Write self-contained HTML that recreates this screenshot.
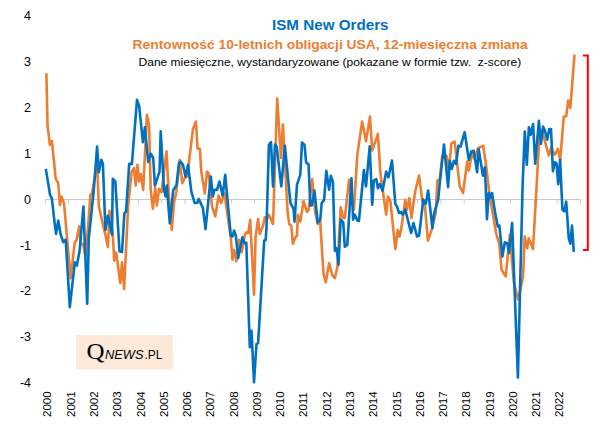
<!DOCTYPE html>
<html><head><meta charset="utf-8"><style>
html,body{margin:0;padding:0;background:#fff;}
body{width:605px;height:435px;overflow:hidden;position:relative;font-family:"Liberation Sans",sans-serif;}
svg{position:absolute;left:0;top:0;}
.t1{position:absolute;left:0;top:12px;width:605px;text-align:center;}
</style></head><body>
<svg width="605" height="435" viewBox="0 0 605 435">
<g stroke="#c9c9c9" stroke-width="1" fill="none">
<line x1="45.3" y1="199.5" x2="580.5" y2="199.5"/>
<line x1="45.3" y1="199.5" x2="45.3" y2="203.5"/><line x1="68.6" y1="199.5" x2="68.6" y2="203.5"/><line x1="91.8" y1="199.5" x2="91.8" y2="203.5"/><line x1="115.1" y1="199.5" x2="115.1" y2="203.5"/><line x1="138.4" y1="199.5" x2="138.4" y2="203.5"/><line x1="161.6" y1="199.5" x2="161.6" y2="203.5"/><line x1="184.9" y1="199.5" x2="184.9" y2="203.5"/><line x1="208.2" y1="199.5" x2="208.2" y2="203.5"/><line x1="231.5" y1="199.5" x2="231.5" y2="203.5"/><line x1="254.7" y1="199.5" x2="254.7" y2="203.5"/><line x1="278.0" y1="199.5" x2="278.0" y2="203.5"/><line x1="301.3" y1="199.5" x2="301.3" y2="203.5"/><line x1="324.5" y1="199.5" x2="324.5" y2="203.5"/><line x1="347.8" y1="199.5" x2="347.8" y2="203.5"/><line x1="371.1" y1="199.5" x2="371.1" y2="203.5"/><line x1="394.4" y1="199.5" x2="394.4" y2="203.5"/><line x1="417.6" y1="199.5" x2="417.6" y2="203.5"/><line x1="440.9" y1="199.5" x2="440.9" y2="203.5"/><line x1="464.2" y1="199.5" x2="464.2" y2="203.5"/><line x1="487.4" y1="199.5" x2="487.4" y2="203.5"/><line x1="510.7" y1="199.5" x2="510.7" y2="203.5"/><line x1="534.0" y1="199.5" x2="534.0" y2="203.5"/><line x1="557.2" y1="199.5" x2="557.2" y2="203.5"/><line x1="580.5" y1="199.5" x2="580.5" y2="203.5"/>
</g>
<g font-family="Liberation Sans" font-size="12.5" fill="#000"><text x="31" y="20.0" text-anchor="end">4</text><text x="31" y="65.9" text-anchor="end">3</text><text x="31" y="111.8" text-anchor="end">2</text><text x="31" y="157.7" text-anchor="end">1</text><text x="31" y="203.6" text-anchor="end">0</text><text x="31" y="249.5" text-anchor="end">-1</text><text x="31" y="295.4" text-anchor="end">-2</text><text x="31" y="341.3" text-anchor="end">-3</text><text x="31" y="387.2" text-anchor="end">-4</text></g>
<g font-family="Liberation Sans" font-size="11.5" fill="#000"><text transform="translate(51.4,417) rotate(-90)">2000</text><text transform="translate(74.7,417) rotate(-90)">2001</text><text transform="translate(97.9,417) rotate(-90)">2002</text><text transform="translate(121.2,417) rotate(-90)">2003</text><text transform="translate(144.5,417) rotate(-90)">2004</text><text transform="translate(167.8,417) rotate(-90)">2005</text><text transform="translate(191.0,417) rotate(-90)">2006</text><text transform="translate(214.3,417) rotate(-90)">2007</text><text transform="translate(237.6,417) rotate(-90)">2008</text><text transform="translate(260.8,417) rotate(-90)">2009</text><text transform="translate(284.1,417) rotate(-90)">2010</text><text transform="translate(307.4,417) rotate(-90)">2011</text><text transform="translate(330.6,417) rotate(-90)">2012</text><text transform="translate(353.9,417) rotate(-90)">2013</text><text transform="translate(377.2,417) rotate(-90)">2014</text><text transform="translate(400.5,417) rotate(-90)">2015</text><text transform="translate(423.7,417) rotate(-90)">2016</text><text transform="translate(447.0,417) rotate(-90)">2017</text><text transform="translate(470.3,417) rotate(-90)">2018</text><text transform="translate(493.5,417) rotate(-90)">2019</text><text transform="translate(516.8,417) rotate(-90)">2020</text><text transform="translate(540.1,417) rotate(-90)">2021</text><text transform="translate(563.3,417) rotate(-90)">2022</text></g>
<rect x="76" y="335" width="97" height="34.6" fill="#fce9da"/>
<text x="86.5" y="358.8" font-family="Liberation Serif" font-size="23" fill="#000" textLength="18" lengthAdjust="spacingAndGlyphs">Q</text>
<text x="105" y="358.8" font-family="Liberation Sans" font-style="italic" font-size="12.6" fill="#000" textLength="38.5" lengthAdjust="spacingAndGlyphs">NEWS</text>
<text x="144.5" y="358.7" font-family="Liberation Sans" font-size="12.5" fill="#000" textLength="18" lengthAdjust="spacingAndGlyphs">.PL</text>
<text x="272" y="29.8" font-family="Liberation Sans" font-weight="bold" font-size="15" fill="#0070c0" textLength="116.5" lengthAdjust="spacingAndGlyphs">ISM New Orders</text>
<text x="132.6" y="48.7" font-family="Liberation Sans" font-weight="bold" font-size="12.5" fill="#ed7d31" textLength="395" lengthAdjust="spacingAndGlyphs">Rentowność 10-letnich obligacji USA, 12-miesięczna zmiana</text>
<text x="138.6" y="66" font-family="Liberation Sans" font-size="10.5" fill="#000" style="white-space:pre" textLength="382.6" lengthAdjust="spacingAndGlyphs">Dane miesięczne, wystandaryzowane (pokazane w formie tzw.  z-score)</text>
<polyline points="46.4,73.3 47.5,125.0 49.9,144.9 51.9,141.0 55.7,178.8 58.2,183.0 59.9,204.9 61.5,196.6 64.0,203.2 70.6,278.1 74.8,242.2 76.4,240.5 79.2,226.4 80.6,244.6 83.0,243.8 85.5,256.0 88.2,225.0 90.4,194.8 91.8,194.5 97.1,163.9 98.8,205.7 102.9,224.8 105.4,234.7 107.9,247.1 109.5,210.7 112.8,234.7 114.2,260.8 116.2,252.5 120.3,283.1 122.0,262.4 124.1,288.9 128.2,205.0 131.7,171.7 134.0,168.2 135.7,185.5 137.4,164.8 139.1,181.4 140.9,174.0 143.2,190.0 146.9,114.8 149.1,125.6 150.7,189.8 152.9,208.8 155.2,188.1 156.9,205.5 159.0,188.9 161.5,192.3 166.5,151.3 168.9,196.4 171.8,229.9 173.9,203.0 176.4,191.4 179.7,160.0 182.2,183.1 184.7,178.2 187.2,176.5 193.0,128.9 195.9,121.5 197.6,148.8 199.9,148.8 201.2,170.7 204.8,193.5 207.0,171.6 208.7,173.2 212.0,206.3 215.3,216.3 218.6,195.6 221.1,203.0 224.4,193.1 230.8,238.1 232.5,259.6 234.1,249.7 236.3,261.3 239.1,239.8 241.6,252.2 244.9,234.8 246.5,232.3 248.2,233.1 250.2,219.9 254.0,294.8 255.6,236.5 258.1,219.1 259.8,234.0 263.1,225.7 264.7,217.4 266.4,219.9 268.9,214.9 273.0,224.0 277.2,98.6 281.0,158.0 282.9,124.6 287.6,212.0 289.2,224.0 291.2,225.7 292.9,243.9 295.4,237.3 297.0,235.6 297.8,214.9 300.3,221.6 303.6,201.3 307.0,212.0 308.6,210.0 312.2,179.0 315.2,212.0 317.7,224.0 320.2,221.6 323.6,274.7 325.8,282.2 329.1,263.1 332.4,275.5 334.9,278.0 337.4,267.3 340.7,207.2 343.2,218.0 344.8,218.0 349.0,179.9 353.9,209.7 357.3,154.6 362.2,121.5 366.0,141.1 370.0,116.6 372.2,150.5 377.9,133.9 380.4,173.3 386.2,214.7 387.9,196.5 390.4,201.4 395.3,249.0 397.8,230.0 399.5,236.6 401.1,230.0 405.3,199.8 406.9,209.7 409.4,198.1 411.4,218.0 415.2,191.5 419.1,175.6 422.5,202.1 424.9,205.4 427.9,240.6 431.6,229.8 435.7,213.3 437.4,180.6 439.8,178.9 442.3,155.7 446.5,155.7 448.9,169.8 451.4,143.3 454.7,141.7 459.7,186.4 463.0,193.0 467.2,161.5 468.8,170.6 472.1,152.4 474.6,159.0 477.9,148.3 481.2,146.6 483.2,145.8 486.2,166.5 489.5,194.6 496.1,233.1 499.4,244.7 501.5,269.7 505.7,276.4 509.8,235.0 513.9,283.0 518.1,299.5 523.0,277.2 524.7,236.6 527.2,248.2 528.8,238.3 533.0,249.0 537.2,175.0 539.7,131.5 542.2,131.5 548.8,155.5 551.3,147.3 554.6,154.7 555.9,153.0 557.9,148.9 560.2,160.0 563.7,116.6 566.2,116.2 568.2,100.5 570.3,107.9 574.5,54.6" fill="none" stroke="#ed7d31" stroke-width="2.6" stroke-linejoin="round" stroke-linecap="butt"/>
<polyline points="45.8,168.9 50.1,195.0 51.9,198.7 54.9,225.6 56.1,233.9 58.2,220.6 60.7,234.7 63.2,242.2 65.7,239.7 69.8,307.1 74.8,262.4 76.8,265.7 79.7,250.0 83.4,206.6 87.2,303.8 88.8,238.0 93.8,190.0 97.1,146.5 98.8,172.2 101.3,159.8 102.9,163.9 105.4,229.7 107.9,215.7 112.0,234.7 112.8,178.8 115.3,181.3 119.5,251.3 122.0,252.1 124.4,213.2 126.1,211.5 129.2,163.9 131.9,163.9 137.0,99.9 139.1,105.7 142.9,142.2 144.9,127.3 148.2,162.0 150.7,153.7 153.2,157.9 154.9,185.6 159.5,171.6 160.7,131.4 164.0,189.8 165.6,196.4 166.8,185.6 169.8,223.3 173.2,190.3 176.5,185.2 178.9,163.3 180.5,161.6 183.0,164.9 185.5,176.5 188.0,164.9 191.3,191.4 194.6,203.0 197.1,203.0 198.7,198.9 202.9,208.0 205.5,229.1 210.8,176.5 212.8,196.4 214.5,189.8 217.0,189.8 219.4,181.5 222.7,195.6 225.2,174.9 230.8,235.6 232.5,236.5 234.1,230.7 235.8,235.6 238.2,258.0 242.4,237.3 244.5,243.1 246.3,242.8 249.8,347.3 251.5,330.8 254.0,382.1 256.5,344.0 258.1,343.2 264.2,240.5 265.6,240.3 266.5,228.0 268.9,145.0 271.0,142.0 273.0,186.4 275.0,144.6 276.7,146.6 281.3,186.4 284.9,145.8 290.4,202.9 293.7,209.5 294.5,221.6 297.0,184.7 300.3,174.8 302.0,142.5 304.5,145.0 306.1,162.4 308.6,164.5 310.3,205.4 311.9,205.4 314.4,190.5 317.7,222.4 320.2,219.9 321.7,203.1 324.1,199.8 326.3,170.8 329.1,189.8 330.8,175.8 332.9,181.6 334.9,250.7 336.6,248.2 338.5,264.8 340.7,219.6 343.2,222.1 344.8,246.6 347.3,244.9 351.5,178.2 353.1,219.6 354.8,214.7 357.3,220.5 358.9,221.0 363.9,170.0 366.0,186.5 369.7,146.4 372.2,204.7 373.8,180.7 376.3,179.1 377.9,188.2 379.9,184.0 382.6,190.7 386.2,171.6 388.4,177.4 392.0,160.4 395.3,203.9 397.0,206.4 399.1,213.0 401.1,212.2 402.8,214.7 405.3,209.7 411.1,232.9 413.5,223.0 417.0,236.5 419.1,235.6 423.3,199.6 425.8,203.7 428.2,190.5 432.4,228.2 434.0,214.1 438.2,199.6 439.8,183.0 444.0,144.6 448.1,187.2 449.8,160.7 451.8,169.0 453.9,160.7 456.1,164.0 458.4,145.8 460.5,146.6 464.7,132.2 468.8,159.9 471.3,151.6 473.8,150.8 477.1,172.3 478.7,149.1 482.9,175.6 484.9,167.3 487.0,219.1 488.7,193.0 490.3,197.9 492.0,193.0 495.0,212.0 497.8,226.5 499.4,225.7 502.4,256.5 504.8,242.4 507.3,243.2 509.0,253.2 512.1,223.0 517.9,377.4 522.6,185.0 524.8,131.5 526.8,164.6 528.9,127.4 530.6,134.8 533.1,124.1 535.2,163.8 538.9,120.8 541.0,143.9 543.0,126.6 544.7,129.9 547.2,139.8 549.3,129.0 551.0,129.0 552.9,171.3 554.9,162.2 556.6,163.8 558.2,184.1 560.1,159.7 562.4,209.5 564.3,211.4 566.2,201.5 568.7,237.9 570.3,243.7 572.0,225.5 573.8,251.8" fill="none" stroke="#0070c0" stroke-width="2.6" stroke-linejoin="round" stroke-linecap="butt"/>
<polyline points="583,55.6 587.8,55.6 587.8,249.9 583,249.9" fill="none" stroke="#ff0000" stroke-width="2"/>
</svg>
</body></html>
